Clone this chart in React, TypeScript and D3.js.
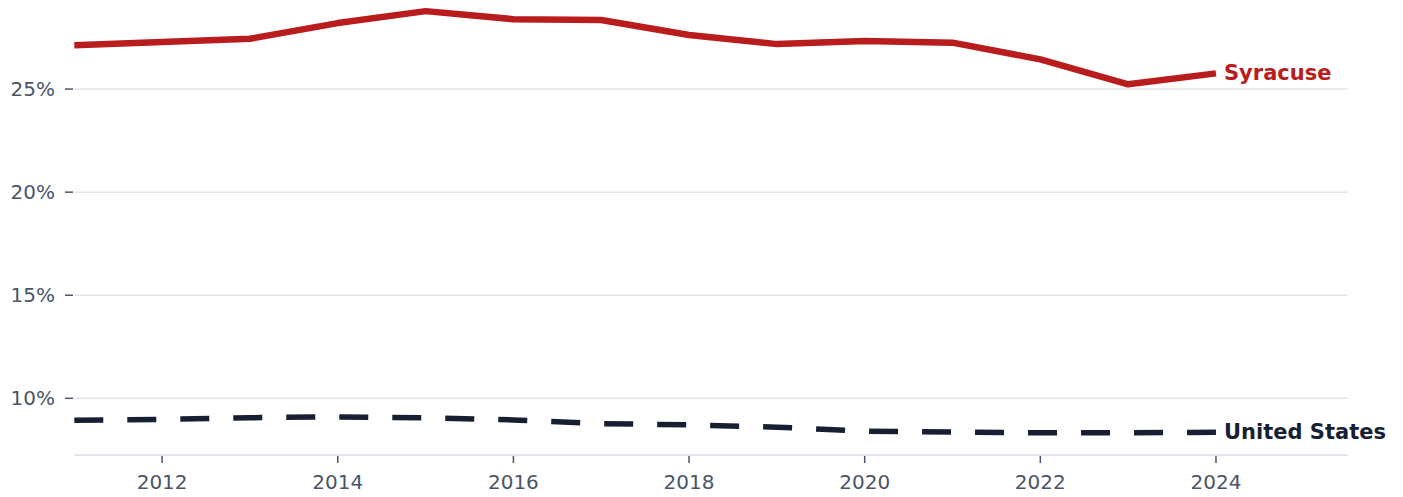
import React from "react";
import * as d3 from "d3";

const years = [2011, 2012, 2013, 2014, 2015, 2016, 2017, 2018, 2019, 2020, 2021, 2022, 2023, 2024];
const syracuse = [27.13, 27.28, 27.44, 28.2, 28.78, 28.39, 28.35, 27.62, 27.18, 27.33, 27.25, 26.44, 25.23, 25.76];
const unitedStates = [8.93, 8.98, 9.06, 9.1, 9.05, 8.95, 8.77, 8.71, 8.6, 8.41, 8.36, 8.33, 8.33, 8.35];
const yTicks = [10, 15, 20, 25];
const xTicks = [2012, 2014, 2016, 2018, 2020, 2022, 2024];

const W = 1403;
const H = 497;
const FONT = "'DejaVu Sans', sans-serif";

export default function App() {
  const x = d3.scaleLinear().domain([2011, 2025.5]).range([74.3, 1347.7]);
  const y = d3.scaleLinear().domain([7.25, 29.32]).range([455, 0]);
  const line = d3
    .line<number>()
    .x((_, i) => x(years[i]))
    .y((d) => y(d));

  const series = [
    { name: "Syracuse", values: syracuse, color: "#b91c1c", dash: undefined as string | undefined },
    { name: "United States", values: unitedStates, color: "#172033", dash: "29 24" },
  ];

  return (
    <svg
      width={W}
      height={H}
      style={{ position: "absolute", left: 0, top: 0, display: "block", background: "#fff" }}
    >
      {yTicks.map((t) => (
        <g key={t}>
          <line x1={x(2011)} x2={x(2025.5)} y1={y(t)} y2={y(t)} stroke="#e4e4ea" strokeWidth={1.5} />
          <line x1={65} x2={73} y1={y(t)} y2={y(t)} stroke="#4a5568" strokeWidth={1.5} />
          <text
            x={55}
            y={y(t)}
            textAnchor="end"
            dominantBaseline="central"
            fontFamily={FONT}
            fontSize={20}
            fill="#4a5568"
          >
            {t}%
          </text>
        </g>
      ))}
      <line x1={x(2011)} x2={x(2025.5)} y1={455} y2={455} stroke="#d8dce6" strokeWidth={1.5} />
      {xTicks.map((t) => (
        <g key={t}>
          <line x1={x(t)} x2={x(t)} y1={456} y2={463} stroke="#4a5568" strokeWidth={1.5} />
          <text
            x={x(t)}
            y={482}
            textAnchor="middle"
            dominantBaseline="central"
            fontFamily={FONT}
            fontSize={20}
            fill="#4a5568"
          >
            {t}
          </text>
        </g>
      ))}
      {series.map((s) => (
        <g key={s.name}>
          <path
            d={line(s.values) || ""}
            fill="none"
            stroke={s.color}
            strokeWidth={s.dash ? 5.5 : 6.5}
            strokeDasharray={s.dash}
            strokeLinejoin="round"
          />
          <text
            x={x(years[years.length - 1]) + 8}
            y={y(s.values[s.values.length - 1])}
            dominantBaseline="central"
            fontFamily={FONT}
            fontSize={21}
            fontWeight="bold"
            fill={s.color}
          >
            {s.name}
          </text>
        </g>
      ))}
    </svg>
  );
}
